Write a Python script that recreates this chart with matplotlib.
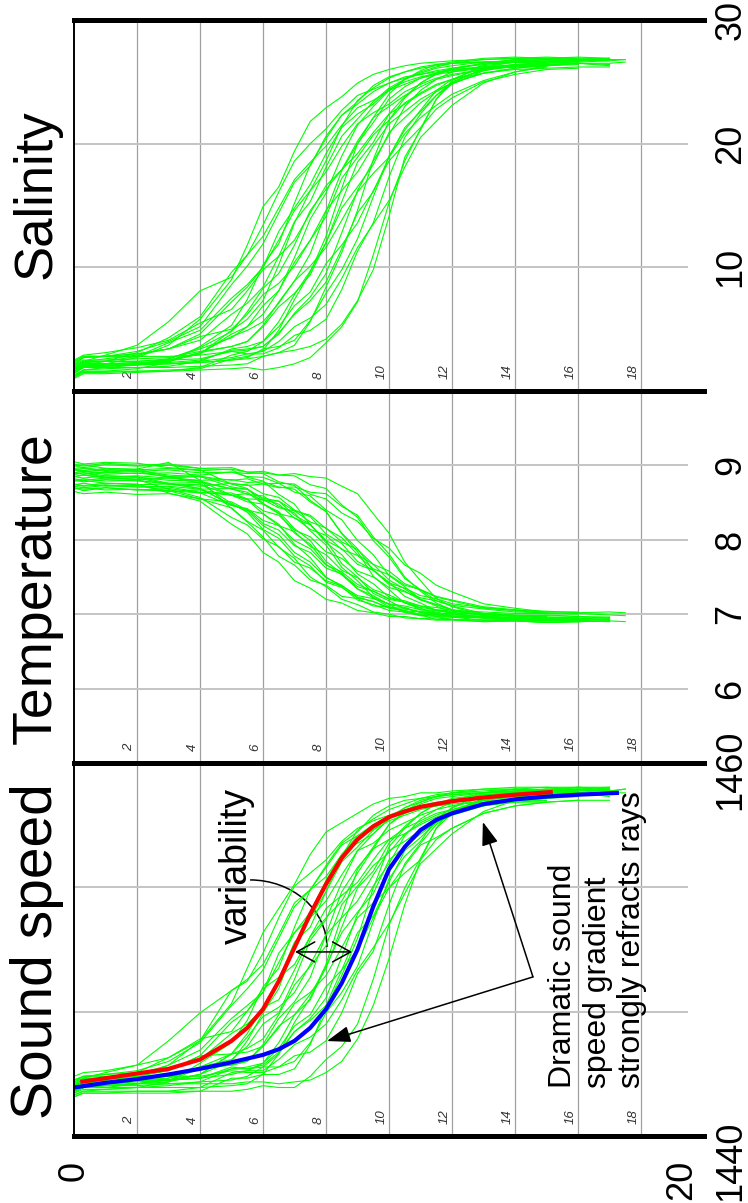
import matplotlib.pyplot as plt
from matplotlib import transforms
from matplotlib.patches import Arc

plt.rcParams['font.family'] = ['Liberation Sans', 'DejaVu Sans']

# depth (m) of the samples in every cast
depth_knots = [0, 0.3, 1, 2, 3, 4, 5, 5.5, 6, 6.5, 7, 7.5, 8, 8.5, 9, 9.5,
               10, 10.5, 11, 11.5, 12, 13, 14, 15, 16, 17, 17.5]

salinity_casts = [
    [1.8, 2.4, 2.9, 3.7, 5.6, 8.1, 9.2, 11.0, 13.4, 16.1, 18.6, 20.0, 21.2, 22.7, 23.9, 24.4, 24.9, 25.4, 25.6, 25.9, 26.1, 26.4, 26.6, 26.5, 26.7],
    [1.4, 2.0, 2.2, 2.7, 3.7, 5.8, 9.0, 11.8, 14.9, 16.5, 19.4, 21.8, 22.9, 23.8, 24.9, 25.6, 26.0, 26.3, 26.5, 26.6, 26.7, 26.8, 26.9, 26.8, 26.9, 26.9],
    [2.1, 2.7, 2.8, 3.2, 4.0, 5.2, 8.6, 10.1, 11.9, 14.4, 16.9, 18.2, 20.6, 22.3, 23.2, 24.2, 24.9, 25.3, 25.6, 25.8, 26.0, 26.1, 26.2, 26.3],
    [1.1, 1.6, 1.6, 1.8, 2.3, 3.6, 5.3, 7.4, 10.2, 11.9, 15.2, 18.3, 20.4, 22.3, 23.4, 24.7, 25.4, 25.8, 26.1, 26.3, 26.5, 26.6, 26.7, 26.6, 26.8, 26.7, 26.8],
    [1.6, 2.3, 2.4, 2.8, 3.9, 4.9, 7.5, 8.6, 10.0, 12.2, 14.6, 16.2, 17.7, 19.8, 21.6, 22.5, 23.2, 24.2, 24.8, 25.3, 25.6, 26.0, 26.2, 26.3, 26.4],
    [2.3, 2.8, 2.8, 3.0, 3.4, 4.1, 6.2, 7.1, 8.4, 10.9, 13.7, 15.3, 18.1, 20.6, 22.0, 23.4, 24.5, 25.2, 25.7, 26.1, 26.3, 26.6, 26.7, 26.8, 26.7, 26.8],
    [1.2, 1.7, 1.9, 2.1, 2.6, 3.5, 4.8, 6.4, 8.3, 9.5, 11.8, 14.6, 16.3, 17.9, 20.2, 22.1, 23.0, 23.9, 24.6, 25.2, 25.5, 26.0, 26.3, 26.4],
    [1.9, 2.3, 2.4, 2.4, 2.6, 3.4, 4.3, 5.2, 6.9, 8.1, 10.8, 13.9, 16.0, 19.0, 21.5, 23.0, 24.3, 25.2, 25.8, 26.2, 26.5, 26.8, 26.9, 27.0, 26.9],
    [1.5, 2.0, 2.0, 2.2, 2.5, 3.0, 4.6, 5.2, 6.2, 8.1, 10.4, 12.2, 14.1, 17.2, 18.9, 20.7, 21.9, 23.3, 24.1, 24.8, 25.2, 25.7, 26.0, 26.1, 26.2, 26.2],
    [2.2, 2.7, 2.8, 3.0, 3.4, 4.4, 5.0, 6.2, 7.8, 8.7, 10.1, 12.2, 14.6, 16.2, 17.7, 19.8, 21.6, 22.6, 23.6, 24.3, 24.9, 25.7, 26.1, 26.4, 26.5, 26.5, 26.6],
    [1.0, 1.4, 1.4, 1.5, 1.6, 1.9, 2.9, 3.2, 4.0, 5.6, 7.8, 9.7, 12.0, 15.3, 18.5, 20.1, 22.4, 23.8, 24.9, 25.6, 26.0, 26.5, 26.8, 26.9, 26.8],
    [1.7, 2.1, 2.2, 2.3, 2.4, 3.1, 3.6, 4.0, 5.2, 6.8, 7.9, 9.4, 12.0, 14.8, 16.5, 18.3, 20.9, 22.1, 23.3, 24.2, 24.9, 25.7, 26.1, 26.3],
    [2.0, 2.4, 2.4, 2.4, 2.5, 2.6, 3.2, 3.3, 3.6, 4.6, 6.3, 7.6, 9.5, 12.8, 16.2, 18.6, 20.7, 23.0, 24.3, 25.2, 25.8, 26.3, 26.6, 26.7, 26.6, 26.7],
    [1.3, 1.7, 1.8, 1.9, 2.0, 2.4, 3.4, 3.6, 4.0, 5.2, 6.9, 8.0, 10.3, 11.8, 13.6, 16.2, 18.6, 20.0, 21.3, 22.8, 23.7, 25.0, 25.6, 26.0, 26.1],
    [1.8, 2.2, 2.2, 2.2, 2.2, 2.3, 2.5, 2.7, 3.4, 3.6, 4.1, 5.7, 7.9, 9.8, 12.3, 15.7, 19.0, 21.1, 22.7, 24.3, 25.2, 26.2, 26.6, 26.7, 26.8, 26.8],
    [2.4, 2.8, 2.8, 2.8, 2.8, 2.9, 3.2, 3.0, 3.0, 3.5, 4.5, 4.9, 5.8, 8.2, 11.3, 13.6, 17.3, 20.5, 22.4, 23.9, 25.0, 26.0, 26.3, 26.5],
    [1.1, 1.5, 1.5, 1.6, 1.6, 1.7, 1.8, 1.9, 1.7, 1.9, 2.2, 2.7, 3.9, 5.2, 7.2, 11.0, 15.2, 18.6, 21.2, 23.6, 24.9, 26.1, 26.4, 26.5, 26.6],
    [1.6, 2.0, 2.1, 2.1, 2.2, 2.3, 2.5, 2.6, 2.8, 3.1, 3.3, 3.6, 4.2, 5.4, 7.3, 9.8, 14.1, 18.9, 21.1, 23.6, 25.1, 26.4, 26.8, 26.9, 26.8, 26.9],
    [1.6, 2.0, 2.0, 2.1, 2.4, 3.0, 4.9, 5.8, 7.3, 10.2, 13.6, 16.2, 18.6, 21.4, 23.5, 24.5, 25.3, 25.8, 26.2, 26.4, 26.5, 26.6, 26.6, 26.8, 26.6],
    [2.1, 2.5, 2.5, 2.6, 2.7, 3.2, 3.6, 4.0, 5.3, 7.2, 8.9, 11.1, 14.5, 17.8, 20.0, 21.7, 23.6, 24.6, 25.3, 25.7, 26.0, 26.2, 26.4, 26.3, 26.5, 26.4],
    [1.4, 1.9, 2.0, 2.2, 2.5, 3.1, 4.4, 4.9, 5.6, 7.1, 8.9, 10.1, 11.6, 13.8, 16.1, 17.6, 18.9, 20.8, 22.1, 23.1, 24.0, 25.1, 25.8, 26.2],
    [1.6, 2.1, 2.4, 3.1, 4.3, 6.0, 9.6, 11.0, 12.5, 14.8, 17.1, 18.5, 19.8, 21.5, 22.9, 23.5, 24.3, 24.8, 25.3, 25.6, 25.8, 26.1, 26.3, 26.4, 26.5],
    [1.8, 2.2, 2.2, 2.3, 2.3, 2.5, 3.3, 3.4, 3.6, 4.7, 6.2, 7.3, 8.8, 11.5, 14.4, 16.1, 18.9, 21.3, 22.6, 23.9, 24.8, 25.9, 26.4, 26.6, 26.7, 26.8],
    [2.5, 2.9, 3.1, 3.5, 4.1, 5.5, 6.6, 8.1, 9.8, 10.9, 12.2, 14.4, 16.6, 17.9, 19.2, 20.9, 22.4, 23.2, 24.0, 24.7, 25.2, 25.9, 26.3, 26.6, 26.7, 26.8, 26.8],
    [1.5, 1.9, 1.9, 1.9, 1.9, 2.0, 2.1, 2.2, 2.8, 3.1, 3.7, 5.6, 8.4, 11.2, 14.6, 18.7, 21.9, 23.7, 24.9, 25.7, 26.1, 26.5, 26.6, 26.6],
    [2.0, 2.4, 2.6, 2.9, 3.4, 4.6, 7.2, 8.4, 10.0, 12.9, 14.8, 16.7, 19.2, 21.3, 22.4, 23.2, 24.4, 25.0, 25.4, 25.7, 25.9, 26.2, 26.3, 26.4, 26.5, 26.3],
    [1.7, 2.1, 2.1, 2.2, 2.2, 2.4, 2.7, 3.0, 3.2, 4.0, 5.2, 5.9, 7.0, 9.1, 11.6, 13.5, 15.4, 18.1, 20.5, 21.8, 23.1, 24.9, 25.8, 26.3, 26.5],
    [1.2, 1.6, 1.6, 1.6, 1.7, 1.8, 2.6, 2.8, 3.3, 4.9, 7.4, 9.6, 12.5, 16.4, 20.0, 22.1, 24.0, 25.2, 25.9, 26.4, 26.6, 26.9, 27.0, 26.9, 27.0, 26.9],
]

temperature_casts = [
    [8.95, 8.92, 8.90, 8.95, 9.04, 8.80, 8.42, 8.24, 8.04, 7.78, 7.66, 7.46, 7.39, 7.24, 7.21, 7.11, 7.10, 7.03, 7.04, 7.00, 6.99, 6.97, 6.96, 6.94, 6.95],
    [8.79, 8.80, 8.76, 8.75, 8.63, 8.52, 8.21, 8.08, 7.83, 7.70, 7.45, 7.35, 7.20, 7.15, 7.05, 7.02, 6.97, 6.97, 6.94, 6.95, 6.93, 6.92, 6.93, 6.91, 6.92, 6.93],
    [8.99, 9.01, 8.96, 8.95, 8.85, 8.76, 8.49, 8.37, 8.14, 8.02, 7.78, 7.65, 7.43, 7.36, 7.22, 7.17, 7.09, 7.08, 7.03, 7.02, 7.00, 7.01, 6.98, 6.98],
    [8.70, 8.66, 8.70, 8.67, 8.66, 8.55, 8.43, 8.25, 8.13, 7.90, 7.75, 7.50, 7.37, 7.20, 7.13, 7.03, 7.00, 6.95, 6.94, 6.92, 6.92, 6.90, 6.91, 6.89, 6.90, 6.91, 6.90],
    [8.88, 8.90, 8.86, 8.85, 8.76, 8.69, 8.47, 8.41, 8.22, 8.13, 7.92, 7.83, 7.62, 7.54, 7.37, 7.31, 7.21, 7.18, 7.11, 7.09, 7.05, 7.03, 7.01, 7.01, 7.00],
    [9.05, 9.02, 9.04, 9.03, 8.97, 8.94, 8.75, 8.69, 8.49, 8.36, 8.09, 7.94, 7.67, 7.53, 7.34, 7.25, 7.13, 7.09, 7.02, 7.01, 6.97, 6.96, 6.95, 6.93, 6.94, 6.95],
    [8.74, 8.76, 8.72, 8.73, 8.66, 8.63, 8.46, 8.42, 8.26, 8.19, 7.99, 7.88, 7.66, 7.57, 7.40, 7.31, 7.20, 7.16, 7.09, 7.06, 7.02, 7.00, 6.97, 6.97],
    [8.85, 8.83, 8.86, 8.84, 8.80, 8.79, 8.68, 8.64, 8.48, 8.38, 8.15, 7.99, 7.71, 7.55, 7.34, 7.22, 7.10, 7.05, 6.98, 6.97, 6.93, 6.92, 6.91, 6.89, 6.90],
    [8.65, 8.62, 8.64, 8.61, 8.62, 8.55, 8.51, 8.40, 8.35, 8.19, 8.11, 7.91, 7.80, 7.59, 7.49, 7.33, 7.26, 7.16, 7.11, 7.06, 7.04, 7.00, 6.98, 6.98, 6.97, 6.96],
    [8.94, 8.96, 8.92, 8.93, 8.87, 8.85, 8.71, 8.68, 8.54, 8.48, 8.29, 8.20, 7.99, 7.88, 7.67, 7.59, 7.42, 7.35, 7.25, 7.21, 7.14, 7.09, 7.05, 7.04, 7.02, 7.03, 7.02],
    [8.80, 8.78, 8.81, 8.79, 8.76, 8.77, 8.69, 8.68, 8.56, 8.52, 8.33, 8.21, 7.96, 7.80, 7.54, 7.41, 7.23, 7.16, 7.06, 7.03, 6.97, 6.95, 6.92, 6.93, 6.92],
    [8.90, 8.92, 8.88, 8.90, 8.85, 8.86, 8.75, 8.74, 8.62, 8.57, 8.40, 8.31, 8.08, 7.95, 7.71, 7.59, 7.40, 7.31, 7.19, 7.13, 7.06, 7.01, 6.97, 6.96],
    [9.00, 8.97, 9.01, 8.99, 9.00, 8.96, 8.97, 8.91, 8.89, 8.78, 8.73, 8.53, 8.38, 8.09, 7.88, 7.59, 7.43, 7.24, 7.15, 7.05, 7.01, 6.95, 6.94, 6.92, 6.93, 6.94],
    [8.70, 8.68, 8.70, 8.67, 8.69, 8.63, 8.63, 8.55, 8.54, 8.43, 8.39, 8.24, 8.16, 7.97, 7.87, 7.67, 7.58, 7.41, 7.33, 7.23, 7.18, 7.08, 7.05, 7.01, 7.01],
    [8.85, 8.87, 8.84, 8.86, 8.83, 8.85, 8.80, 8.82, 8.75, 8.76, 8.64, 8.59, 8.40, 8.27, 7.99, 7.80, 7.52, 7.37, 7.20, 7.11, 7.02, 6.96, 6.92, 6.92, 6.91, 6.90],
    [8.95, 8.93, 8.96, 8.94, 8.96, 8.93, 8.95, 8.91, 8.92, 8.87, 8.86, 8.74, 8.69, 8.47, 8.30, 7.99, 7.77, 7.48, 7.33, 7.18, 7.11, 7.01, 6.99, 6.98],
    [8.75, 8.73, 8.76, 8.74, 8.75, 8.72, 8.76, 8.73, 8.75, 8.70, 8.71, 8.64, 8.62, 8.45, 8.33, 8.04, 7.81, 7.50, 7.31, 7.15, 7.06, 6.98, 6.95, 6.93, 6.94],
    [8.90, 8.88, 8.91, 8.89, 8.90, 8.87, 8.91, 8.89, 8.90, 8.87, 8.89, 8.85, 8.83, 8.72, 8.62, 8.35, 8.09, 7.70, 7.45, 7.21, 7.10, 6.99, 6.97, 6.96, 6.95, 6.96],
    [8.80, 8.82, 8.79, 8.80, 8.75, 8.74, 8.60, 8.54, 8.35, 8.21, 7.94, 7.76, 7.50, 7.37, 7.19, 7.13, 7.05, 7.03, 6.98, 6.99, 6.97, 6.96, 6.94, 6.96, 6.95],
    [9.02, 8.99, 9.03, 9.00, 9.02, 8.96, 8.94, 8.84, 8.79, 8.61, 8.48, 8.20, 7.99, 7.68, 7.50, 7.28, 7.18, 7.07, 7.03, 6.97, 6.96, 6.92, 6.93, 6.91, 6.92, 6.93],
    [8.74, 8.72, 8.74, 8.71, 8.71, 8.64, 8.60, 8.51, 8.48, 8.35, 8.30, 8.14, 8.06, 7.87, 7.79, 7.61, 7.53, 7.39, 7.33, 7.24, 7.19, 7.10, 7.06, 7.03],
    [8.88, 8.90, 8.84, 8.81, 8.68, 8.57, 8.30, 8.20, 8.01, 7.91, 7.70, 7.62, 7.45, 7.38, 7.25, 7.21, 7.14, 7.11, 7.06, 7.05, 7.02, 7.00, 6.98, 6.99, 6.97],
    [8.68, 8.70, 8.67, 8.68, 8.65, 8.67, 8.60, 8.62, 8.53, 8.52, 8.39, 8.33, 8.15, 8.03, 7.80, 7.67, 7.46, 7.34, 7.20, 7.13, 7.05, 6.98, 6.93, 6.92, 6.90, 6.91],
    [8.96, 8.97, 8.93, 8.92, 8.84, 8.79, 8.60, 8.55, 8.39, 8.33, 8.13, 8.04, 7.84, 7.75, 7.58, 7.50, 7.36, 7.30, 7.22, 7.18, 7.12, 7.07, 7.03, 7.02, 7.01, 6.99, 6.98],
    [8.82, 8.80, 8.83, 8.81, 8.83, 8.80, 8.81, 8.77, 8.78, 8.71, 8.68, 8.51, 8.38, 8.08, 7.84, 7.51, 7.33, 7.15, 7.08, 7.00, 6.98, 6.95, 6.93, 6.94],
    [8.85, 8.87, 8.83, 8.83, 8.75, 8.69, 8.47, 8.39, 8.19, 8.07, 7.83, 7.70, 7.49, 7.39, 7.23, 7.17, 7.08, 7.05, 7.00, 6.99, 6.96, 6.95, 6.93, 6.94, 6.92, 6.93],
    [8.94, 8.91, 8.95, 8.92, 8.94, 8.90, 8.91, 8.85, 8.84, 8.76, 8.75, 8.61, 8.55, 8.36, 8.25, 8.02, 7.89, 7.66, 7.55, 7.39, 7.30, 7.14, 7.08, 7.03, 7.03],
    [8.72, 8.70, 8.73, 8.71, 8.72, 8.68, 8.69, 8.61, 8.59, 8.45, 8.36, 8.12, 7.93, 7.63, 7.45, 7.23, 7.13, 7.02, 6.99, 6.93, 6.93, 6.90, 6.91, 6.89, 6.90, 6.91],
]

sound_speed_casts = [
    [1442.7, 1443.1, 1443.4, 1443.8, 1445.1, 1446.6, 1447.8, 1448.3, 1449.8, 1451.7, 1453.4, 1454.1, 1454.8, 1455.8, 1456.5, 1456.9, 1457.2, 1457.5, 1457.7, 1457.8, 1458.0, 1458.1, 1458.3, 1458.2, 1458.3],
    [1442.4, 1442.7, 1442.8, 1443.1, 1443.8, 1445.1, 1447.1, 1449.0, 1450.9, 1452.2, 1453.5, 1455.1, 1456.3, 1456.8, 1457.3, 1457.8, 1458.1, 1458.2, 1458.4, 1458.4, 1458.5, 1458.6, 1458.6, 1458.5, 1458.6, 1458.6],
    [1442.9, 1443.2, 1443.3, 1443.5, 1444.0, 1445.0, 1447.0, 1447.9, 1448.9, 1450.6, 1452.3, 1453.2, 1454.4, 1455.6, 1456.1, 1456.7, 1457.1, 1457.3, 1457.6, 1457.7, 1457.8, 1457.9, 1458.0, 1458.0],
    [1442.2, 1442.4, 1442.5, 1442.6, 1442.9, 1443.9, 1445.0, 1446.2, 1448.0, 1449.0, 1451.2, 1453.2, 1454.5, 1455.7, 1456.3, 1457.2, 1457.7, 1458.0, 1458.1, 1458.3, 1458.4, 1458.4, 1458.5, 1458.4, 1458.6, 1458.5, 1458.6],
    [1442.7, 1443.0, 1443.1, 1443.3, 1443.8, 1444.6, 1446.3, 1447.0, 1447.7, 1449.3, 1450.9, 1451.7, 1452.6, 1454.0, 1455.3, 1455.7, 1456.4, 1456.8, 1457.2, 1457.5, 1457.7, 1458.0, 1458.0, 1458.1, 1458.2],
    [1443.0, 1443.2, 1443.3, 1443.4, 1443.6, 1444.1, 1445.5, 1446.0, 1446.8, 1448.4, 1450.4, 1451.2, 1453.1, 1454.7, 1455.5, 1456.4, 1457.1, 1457.6, 1457.9, 1458.2, 1458.3, 1458.4, 1458.6, 1458.5, 1458.7, 1458.6],
    [1442.3, 1442.6, 1442.7, 1442.8, 1443.1, 1443.7, 1444.4, 1445.5, 1446.9, 1447.3, 1448.9, 1450.7, 1451.7, 1452.6, 1454.1, 1455.4, 1455.9, 1456.5, 1456.9, 1457.3, 1457.5, 1457.8, 1457.9, 1458.0],
    [1442.7, 1442.9, 1442.9, 1443.0, 1443.1, 1443.7, 1444.1, 1444.8, 1446.0, 1446.6, 1448.4, 1450.5, 1451.6, 1453.6, 1455.3, 1456.2, 1457.0, 1457.6, 1458.0, 1458.2, 1458.4, 1458.6, 1458.7, 1458.7, 1458.6],
    [1442.4, 1442.6, 1442.7, 1442.8, 1443.0, 1443.3, 1444.4, 1444.7, 1445.2, 1446.5, 1448.1, 1449.1, 1450.2, 1452.4, 1453.4, 1454.5, 1455.2, 1456.2, 1456.7, 1457.1, 1457.4, 1457.7, 1457.9, 1457.9, 1458.0, 1458.0],
    [1442.8, 1443.1, 1443.1, 1443.3, 1443.5, 1444.3, 1444.4, 1445.3, 1446.4, 1446.9, 1447.7, 1449.2, 1450.8, 1451.7, 1452.6, 1454.0, 1455.3, 1455.8, 1456.4, 1457.0, 1457.3, 1457.8, 1458.1, 1458.2, 1458.3, 1458.4, 1458.4],
    [1442.1, 1442.3, 1442.3, 1442.4, 1442.4, 1442.6, 1443.4, 1443.5, 1443.9, 1445.0, 1446.5, 1447.6, 1449.0, 1451.2, 1453.3, 1454.2, 1455.7, 1456.6, 1457.3, 1457.8, 1458.0, 1458.4, 1458.5, 1458.6, 1458.5],
    [1442.6, 1442.8, 1442.8, 1442.9, 1443.0, 1443.6, 1443.8, 1444.0, 1444.8, 1445.9, 1446.5, 1447.3, 1449.1, 1450.9, 1452.0, 1453.0, 1454.8, 1455.5, 1456.2, 1456.8, 1457.2, 1457.7, 1458.0, 1458.1],
    [1442.8, 1443.0, 1443.0, 1443.0, 1443.0, 1443.1, 1443.6, 1443.6, 1443.7, 1444.4, 1445.6, 1446.3, 1447.4, 1449.6, 1451.9, 1453.4, 1454.6, 1456.1, 1457.0, 1457.5, 1457.9, 1458.3, 1458.4, 1458.5, 1458.4, 1458.6],
    [1442.3, 1442.5, 1442.5, 1442.6, 1442.7, 1442.9, 1443.6, 1443.7, 1443.9, 1444.7, 1445.9, 1446.5, 1448.0, 1448.9, 1450.0, 1451.7, 1453.3, 1454.1, 1454.8, 1455.9, 1456.5, 1457.3, 1457.7, 1457.9, 1458.0],
    [1442.6, 1442.8, 1442.8, 1442.8, 1442.8, 1442.9, 1443.0, 1443.2, 1443.7, 1443.7, 1444.0, 1445.0, 1446.6, 1447.7, 1449.1, 1451.5, 1453.8, 1455.0, 1455.8, 1457.0, 1457.6, 1458.2, 1458.5, 1458.6, 1458.5, 1458.6],
    [1443.0, 1443.2, 1443.2, 1443.2, 1443.2, 1443.2, 1443.5, 1443.4, 1443.4, 1443.7, 1444.3, 1444.5, 1445.1, 1446.6, 1448.7, 1449.9, 1452.4, 1454.6, 1455.7, 1456.7, 1457.3, 1458.0, 1458.2, 1458.3],
    [1442.2, 1442.4, 1442.4, 1442.4, 1442.4, 1442.4, 1442.4, 1442.5, 1442.7, 1442.6, 1442.6, 1443.2, 1444.1, 1444.8, 1446.0, 1448.4, 1451.3, 1453.3, 1454.9, 1456.5, 1457.3, 1458.1, 1458.3, 1458.4, 1458.4],
    [1442.5, 1442.7, 1442.7, 1442.7, 1442.8, 1442.8, 1442.8, 1442.9, 1442.9, 1442.8, 1442.9, 1443.0, 1443.4, 1444.0, 1445.2, 1447.0, 1449.5, 1452.4, 1454.8, 1456.5, 1457.6, 1458.4, 1458.6, 1458.7, 1458.7, 1458.6],
    [1442.5, 1442.7, 1442.7, 1442.8, 1442.9, 1443.3, 1444.0, 1445.1, 1446.6, 1447.9, 1450.2, 1451.7, 1453.1, 1455.0, 1456.4, 1457.0, 1457.5, 1457.8, 1458.1, 1458.2, 1458.3, 1458.4, 1458.4, 1458.3, 1458.5],
    [1442.9, 1443.1, 1443.1, 1443.1, 1443.2, 1443.7, 1443.8, 1444.0, 1444.9, 1446.3, 1447.2, 1448.5, 1450.8, 1453.1, 1454.4, 1455.4, 1456.7, 1457.3, 1457.8, 1458.1, 1458.2, 1458.4, 1458.5, 1458.4, 1458.6, 1458.5],
    [1442.4, 1442.6, 1442.6, 1442.8, 1443.0, 1443.3, 1444.4, 1444.5, 1444.8, 1445.8, 1447.1, 1447.7, 1448.6, 1450.1, 1451.7, 1452.5, 1453.3, 1454.5, 1455.6, 1456.0, 1456.5, 1457.3, 1457.7, 1457.9],
    [1442.5, 1442.8, 1443.0, 1443.4, 1444.2, 1445.1, 1447.8, 1448.4, 1449.2, 1450.8, 1452.5, 1453.2, 1453.9, 1455.1, 1456.1, 1456.4, 1456.9, 1457.2, 1457.5, 1457.7, 1457.9, 1458.1, 1458.2, 1458.2, 1458.3],
    [1442.7, 1442.9, 1442.9, 1443.0, 1443.0, 1443.1, 1443.7, 1443.6, 1443.8, 1444.5, 1445.6, 1446.2, 1447.0, 1448.9, 1450.9, 1451.8, 1453.6, 1455.3, 1456.0, 1456.8, 1457.4, 1458.1, 1458.4, 1458.6, 1458.7, 1458.7],
    [1443.2, 1443.4, 1443.5, 1443.8, 1444.2, 1445.2, 1445.6, 1446.7, 1447.9, 1448.5, 1449.2, 1450.7, 1452.2, 1452.9, 1453.6, 1454.8, 1455.9, 1456.2, 1456.8, 1457.2, 1457.5, 1458.0, 1458.2, 1458.4, 1458.5, 1458.5, 1458.6],
    [1442.4, 1442.6, 1442.6, 1442.6, 1442.6, 1442.6, 1442.7, 1442.8, 1443.3, 1443.3, 1443.6, 1444.9, 1446.9, 1448.6, 1450.6, 1453.3, 1455.5, 1456.5, 1457.3, 1457.8, 1458.1, 1458.3, 1458.4, 1458.4],
    [1442.7, 1442.9, 1443.0, 1443.2, 1443.5, 1444.3, 1446.1, 1446.7, 1447.7, 1449.8, 1450.9, 1452.0, 1453.7, 1455.1, 1455.7, 1456.2, 1457.0, 1457.4, 1457.7, 1457.9, 1458.0, 1458.2, 1458.2, 1458.3, 1458.4, 1458.2],
    [1442.7, 1442.9, 1442.9, 1443.0, 1443.0, 1443.1, 1443.3, 1443.5, 1443.5, 1444.1, 1444.9, 1445.3, 1446.0, 1447.3, 1448.9, 1450.1, 1451.4, 1453.0, 1454.6, 1455.4, 1456.2, 1457.4, 1458.0, 1458.2, 1458.4],
    [1442.1, 1442.3, 1442.3, 1442.3, 1442.3, 1442.4, 1443.1, 1443.1, 1443.3, 1444.4, 1446.1, 1447.4, 1449.2, 1451.8, 1454.3, 1455.5, 1456.7, 1457.4, 1457.9, 1458.2, 1458.4, 1458.5, 1458.6, 1458.5, 1458.6, 1458.7],
]

# two smooth reference sound speed profiles
red_depth = [0.2, 1, 2, 3, 4, 5, 5.5, 6, 6.5, 7, 7.5, 8, 8.5, 9, 9.5, 10, 10.5, 11, 12, 13, 14, 15.2]
red_speed = [1442.9, 1443.1, 1443.35, 1443.6, 1444.1, 1445.1, 1445.8, 1446.8, 1448.3, 1450.1, 1451.9,
             1453.5, 1454.9, 1455.9, 1456.6, 1457.1, 1457.4, 1457.65, 1457.95, 1458.15, 1458.3, 1458.45]
blue_depth = [0, 1, 2, 3, 4, 5, 6, 6.5, 7, 7.5, 8, 8.5, 9, 9.5, 10, 10.5, 11, 11.5, 12, 13, 14, 15, 16, 17.3]
blue_speed = [1442.6, 1442.85, 1443.05, 1443.3, 1443.6, 1443.95, 1444.35, 1444.65, 1445.1, 1445.8, 1446.8,
              1448.2, 1450.0, 1452.3, 1454.3, 1455.5, 1456.4, 1456.95, 1457.3, 1457.8, 1458.05, 1458.2, 1458.3, 1458.4]

depth_ticks = [2, 4, 6, 8, 10, 12, 14, 16, 18]
salinity_ticks = [10, 20, 30]
temperature_ticks = [6, 7, 8, 9]
speed_grid = [1446.67, 1453.33]

GREEN = '#00ff00'
BIG = 26


def setup_panel(ax, ylim, grid_vals):
    ax.set_xlim(0, 20)
    ax.set_ylim(*ylim)
    ax.set_xticks([])
    ax.set_yticks([])
    for side in ('top', 'bottom'):
        ax.spines[side].set_linewidth(3.6)
    ax.spines['left'].set_linewidth(1.4)
    ax.spines['right'].set_visible(False)
    for d in depth_ticks:
        ax.axvline(d, color='#a0a0a0', lw=0.9, zorder=0)
    ax.hlines(grid_vals, 0, 19.5, color='#c4c4c4', lw=1.4, zorder=0)
    tr = transforms.blended_transform_factory(ax.transData, ax.transAxes)
    for d in depth_ticks:
        ax.text(d - 0.05, 0.031, str(d), transform=tr, rotation=90,
                ha='right', va='bottom', fontsize=9.5, style='italic',
                color='#333333', zorder=1)


def draw_casts(ax, casts):
    for vals in casts:
        ax.plot(depth_knots[:len(vals)], vals, color=GREEN, lw=0.8)


def value_label(ax, y, text, coords='data'):
    if coords == 'data':
        tr = transforms.blended_transform_factory(ax.transAxes, ax.transData)
    else:
        tr = ax.transAxes
    ax.text(1.043, y, text, transform=tr, rotation=90, ha='center',
            va='center', fontsize=BIG)


fig = plt.figure(figsize=(7.48, 12.03), dpi=100)
left, width = 74 / 748, 630 / 748
ax_s = fig.add_axes([left, 1 - 391 / 1203, width, 371 / 1203])
ax_t = fig.add_axes([left, 1 - 763 / 1203, width, 372 / 1203])
ax_c = fig.add_axes([left, 1 - 1136 / 1203, width, 373 / 1203])

# salinity
setup_panel(ax_s, (0, 30), salinity_ticks[:-1])
draw_casts(ax_s, salinity_casts)
for v in salinity_ticks:
    value_label(ax_s, v, str(v))
ax_s.text(-0.0587, 0.53, 'Salinity', transform=ax_s.transAxes,
          rotation=90, ha='center', va='center', fontsize=38)

# temperature
setup_panel(ax_t, (5, 10), temperature_ticks)
draw_casts(ax_t, temperature_casts)
for v in temperature_ticks:
    value_label(ax_t, v, str(v))
ax_t.text(-0.0587, 0.47, 'Temperature', transform=ax_t.transAxes,
          rotation=90, ha='center', va='center', fontsize=40)

# sound speed
setup_panel(ax_c, (1440, 1460), speed_grid)
draw_casts(ax_c, sound_speed_casts)
ax_c.plot(blue_depth, blue_speed, color='#0000ff', lw=3.0, solid_capstyle='butt')
ax_c.plot(red_depth, red_speed, color='#ff0000', lw=3.0, solid_capstyle='butt')
value_label(ax_c, 0.981, '1460', coords='axes')
value_label(ax_c, -0.066, '1440', coords='axes')
ax_c.text(-0.0587, 0.496, 'Sound speed', transform=ax_c.transAxes,
          rotation=90, ha='center', va='center', fontsize=41)

# depth axis end labels
tr_c = transforms.blended_transform_factory(ax_c.transData, ax_c.transAxes)
ax_c.text(0, -0.094, '0', transform=tr_c, rotation=90, ha='center',
          va='center', fontsize=BIG)
ax_c.text(19.3, -0.118, '20', transform=tr_c, rotation=90, ha='center',
          va='center', fontsize=BIG)

# annotations
ax_c.text(5.17, 1454.5, 'variability', rotation=90, ha='center',
          va='center', fontsize=27)
ax_c.add_patch(Arc((5.59, 1450.13), 4.88, 7.2, theta1=0, theta2=90,
                   color='k', lw=1.1))
ax_c.annotate('', xy=(8.83, 1449.87), xytext=(7.02, 1449.87),
              arrowprops=dict(arrowstyle='<->,head_length=0.65,head_width=0.36',
                              lw=1.1, color='k', mutation_scale=20,
                              shrinkA=0, shrinkB=0))
for tip in [(12.98, 1456.84), (8.03, 1445.09)]:
    ax_c.annotate('', xy=tip, xytext=(14.57, 1448.53),
                  arrowprops=dict(arrowstyle='-|>,head_length=0.8,head_width=0.28',
                                  lw=1.1, color='k', mutation_scale=18,
                                  shrinkA=0, shrinkB=0))
ax_c.text(15.05, 1442.57, 'Dramatic sound\nspeed gradient\nstrongly refracts rays',
          rotation=90, ha='left', va='bottom', multialignment='left',
          fontsize=23, linespacing=1.2)

fig.savefig('out.png', dpi=100)
